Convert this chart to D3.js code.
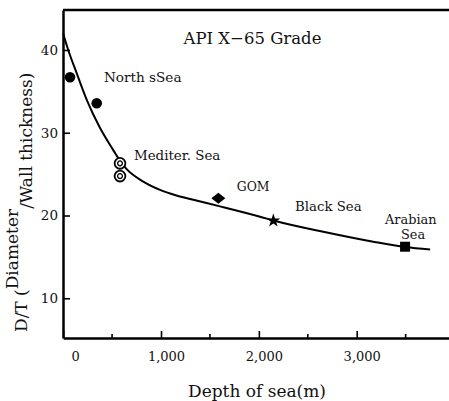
<!DOCTYPE html>
<html>
<head>
<meta charset="utf-8">
<script src="https://cdn.jsdelivr.net/npm/d3@7/dist/d3.min.js"></script>
<style>
  html, body { margin: 0; padding: 0; background: #fff; }
  svg { display: block; }
  text { font-family: "DejaVu Serif", "Liberation Serif", serif; fill: #111; }
</style>
</head>
<body>
<svg id="chart" width="449" height="401"></svg>
<script>
// ---- data ----
const curveDepth = [0, 52, 138, 240, 376, 512, 581, 649, 819, 990, 1150, 1330, 1603, 2012, 2148, 2671, 3182, 3495, 3750];
const curveValue = [42.0, 40.0, 37.2, 34.0, 30.6, 27.9, 26.6, 25.6, 24.1, 23.1, 22.45, 21.9, 21.1, 19.85, 19.4, 18.0, 16.8, 16.2, 15.9];

const northSeaDepth = [70, 343];
const northSeaValue = [36.7, 33.56];
const mediterDepth = [581, 581];
const mediterValue = [26.3, 24.76];
const gomDepth = [1586];
const gomValue = [22.08];
const blackSeaDepth = [2148];
const blackSeaValue = [19.38];
const arabianDepth = [3494];
const arabianValue = [16.23];

const xTickValues = [0, 1000, 2000, 3000];
const xMinorTicks = [500, 1500, 2500, 3500];
const yTickValues = [10, 20, 30, 40];

const labelTexts = ["North sSea", "Mediter. Sea", "GOM", "Black Sea", "Arabian", "Sea"];
const labelDepths = [417, 724, 1774, 2370, 3553, 3576];
const labelValues = [36.7, 27.31, 23.48, 21.07, 19.57, 17.68];

const titleText = "API X\u221265 Grade";
const xTitle = "Depth of sea(m)";

// ---- layout ----
const FONT = '"DejaVu Serif", "Liberation Serif", serif';
const svg = d3.select("#chart");
const x = d3.scaleLinear().domain([0, 3943]).range([63.15, 449]);
const y = d3.scaleLinear().domain([5.2, 44.83]).range([338, 10]);

// frame line on top
svg.append("line").attr("x1", 63).attr("x2", 449).attr("y1", 10).attr("y2", 10)
  .attr("stroke", "#000").attr("stroke-width", 2.5);

// y axis
const yAxis = d3.axisLeft(y).tickValues(yTickValues).tickSizeInner(-7).tickSizeOuter(0).tickPadding(5);
const gy = svg.append("g").attr("transform", "translate(63,0)").call(yAxis);
gy.select(".domain").attr("stroke", "#000").attr("stroke-width", 2.5);
gy.selectAll(".tick line").attr("stroke", "#000").attr("stroke-width", 1.6);
gy.selectAll(".tick text").attr("font-size", 13.5)
  .style("font-family", FONT).attr("fill", "#111");

// x axis
const xAxis = d3.axisBottom(x).tickValues(xTickValues).tickSizeInner(-7).tickSizeOuter(0).tickPadding(14)
  .tickFormat(d3.format(","));
const gx = svg.append("g").attr("transform", "translate(0,338)").call(xAxis);
gx.select(".domain").attr("stroke", "#000").attr("stroke-width", 2.5);
gx.selectAll(".tick line").attr("stroke", "#000").attr("stroke-width", 1.6);
gx.selectAll(".tick text").attr("font-size", 13)
  .attr("dx", d => d === 0 ? 12 : 5)
  .style("font-family", FONT).attr("fill", "#111");
gx.selectAll(".minor").data(xMinorTicks).enter().append("line")
  .attr("x1", d => x(d)).attr("x2", d => x(d)).attr("y1", 0).attr("y2", -4)
  .attr("stroke", "#000").attr("stroke-width", 1.6);

// curve
const line = d3.line().x(d => x(d[0])).y(d => y(d[1])).curve(d3.curveMonotoneX);
svg.append("path").datum(curveDepth.map((d, i) => [d, curveValue[i]]))
  .attr("d", line).attr("fill", "none").attr("stroke", "#000").attr("stroke-width", 2);

// markers
svg.selectAll(".ns").data(northSeaDepth.map((d, i) => [d, northSeaValue[i]])).enter()
  .append("circle").attr("cx", d => x(d[0])).attr("cy", d => y(d[1])).attr("r", 5.3).attr("fill", "#000");

const med = svg.selectAll(".med").data(mediterDepth.map((d, i) => [d, mediterValue[i]])).enter().append("g")
  .attr("transform", d => `translate(${x(d[0])},${y(d[1])})`);
med.append("circle").attr("r", 5.4).attr("fill", "#fff").attr("stroke", "#000").attr("stroke-width", 1.8);
med.append("circle").attr("r", 2.4).attr("fill", "none").attr("stroke", "#000").attr("stroke-width", 1.3);

svg.selectAll(".gom").data(gomDepth.map((d, i) => [d, gomValue[i]])).enter().append("path")
  .attr("transform", d => `translate(${x(d[0])},${y(d[1])})`)
  .attr("d", "M0,-5.5L7,0L0,5.5L-7,0Z").attr("fill", "#000");

svg.selectAll(".bs").data(blackSeaDepth.map((d, i) => [d, blackSeaValue[i]])).enter().append("path")
  .attr("transform", d => `translate(${x(d[0])},${y(d[1])})`)
  .attr("d", d3.symbol(d3.symbolStar, 60)).attr("fill", "#000");

svg.selectAll(".ar").data(arabianDepth.map((d, i) => [d, arabianValue[i]])).enter().append("path")
  .attr("transform", d => `translate(${x(d[0])},${y(d[1])})`)
  .attr("d", d3.symbol(d3.symbolSquare, 100)).attr("fill", "#000");

// annotations
const anchors = ["start", "start", "start", "start", "middle", "middle"];
const sizes = [13.6, 13.4, 12.4, 13.3, 12.9, 12.9];
svg.selectAll(".lab").data(labelTexts).enter().append("text")
  .attr("x", (d, i) => x(labelDepths[i])).attr("y", (d, i) => y(labelValues[i]))
  .attr("dy", "0.35em").attr("text-anchor", (d, i) => anchors[i])
  .attr("font-size", (d, i) => sizes[i])
  .text(d => d);

// title
svg.append("text").attr("x", 252.5).attr("y", 43.5).attr("text-anchor", "middle")
  .attr("font-size", 16.5).text(titleText);

// x title
svg.append("text").attr("x", 257).attr("y", 397).attr("text-anchor", "middle")
  .attr("font-size", 17).text(xTitle);

// y title
const yt = svg.append("text").attr("transform", "translate(27,332) rotate(-90)")
  .attr("font-size", 17);
yt.append("tspan").text("D/T (");
yt.append("tspan").attr("dy", -9).text("Diameter");
yt.append("tspan").attr("dy", 14).text("/Wall thickness)");
</script>
</body>
</html>
